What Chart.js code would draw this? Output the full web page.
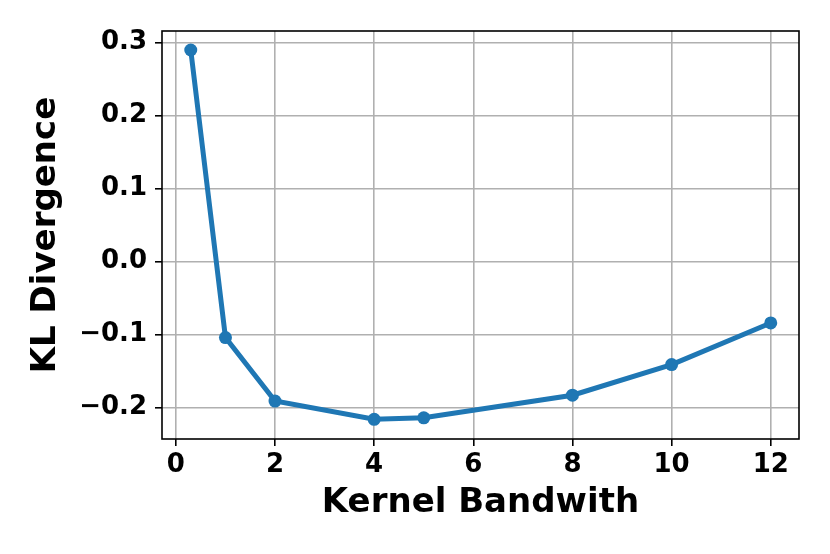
<!DOCTYPE html>
<html>
<head>
<meta charset="utf-8">
<script src="https://cdn.jsdelivr.net/npm/chart.js@4"></script>
<style>
  html, body { margin: 0; padding: 0; background: #fff; }
  #wrap { width: 830px; height: 554px; }
</style>
</head>
<body>
<div id="wrap"><canvas id="klChart"></canvas></div>
<script>
const bandwidths = [0.3, 1, 2, 4, 5, 8, 10, 12];
const klValues = [0.290, -0.104, -0.191, -0.216, -0.214, -0.183, -0.141, -0.084];
const xTicks = [0, 2, 4, 6, 8, 10, 12];
const yTicks = [-0.2, -0.1, 0.0, 0.1, 0.2, 0.3];

const FONT = "'DejaVu Sans', sans-serif";
const BLUE = '#1f77b4';

// matplotlib-style minus sign
function fmt(v, digits) {
  const s = Math.abs(v).toFixed(digits);
  return v < -1e-9 ? '\u2212' + s : s;
}

const framePlugin = {
  id: 'frame',
  afterDatasetsDraw(chart) {
    const { ctx, chartArea: a } = chart;
    ctx.save();
    ctx.strokeStyle = '#000';
    ctx.lineWidth = 1.6;
    ctx.strokeRect(a.left, a.top, a.right - a.left, a.bottom - a.top);
    ctx.restore();
  },
};

new Chart(document.getElementById('klChart'), {
  type: 'line',
  data: {
    datasets: [
      {
        data: bandwidths.map((x, i) => ({ x, y: klValues[i] })),
        borderColor: BLUE,
        backgroundColor: BLUE,
        borderWidth: 5,
        pointRadius: 6.5,
        pointHoverRadius: 6.5,
        pointBorderWidth: 0,
        tension: 0,
      },
    ],
  },
  options: {
    responsive: true,
    maintainAspectRatio: false,
    animation: false,
    layout: { padding: { top: 31, right: 31, left: 0, bottom: 0 } },
    plugins: { legend: { display: false }, tooltip: { enabled: false } },
    scales: {
      x: {
        type: 'linear',
        min: -0.28,
        max: 12.57,
        afterBuildTicks: (s) => { s.ticks = xTicks.map((v) => ({ value: v })); },
        afterFit: (s) => { s.height = 115; },
        grid: { color: '#b0b0b0', lineWidth: 1.6, tickColor: '#000', tickLength: 7, tickWidth: 1.6 },
        border: { display: false },
        ticks: {
          color: '#000',
          padding: 4,
          maxRotation: 0,
          font: { family: FONT, size: 26, weight: 'bold' },
          callback: (v) => fmt(v, 0),
        },
        title: {
          display: true,
          text: 'Kernel Bandwith',
          color: '#000',
          padding: { top: 0, bottom: 30 },
          font: { family: FONT, size: 34, weight: 'bold' },
        },
      },
      y: {
        min: -0.243,
        max: 0.316,
        afterBuildTicks: (s) => { s.ticks = yTicks.map((v) => ({ value: v })); },
        afterFit: (s) => { s.width = 162; },
        grid: { color: '#b0b0b0', lineWidth: 1.6, tickColor: '#000', tickLength: 7, tickWidth: 1.6 },
        border: { display: false },
        ticks: {
          color: '#000',
          padding: 8,
          font: { family: FONT, size: 26, weight: 'bold' },
          callback: (v) => fmt(v, 1),
        },
        title: {
          display: true,
          text: 'KL Divergence',
          color: '#000',
          padding: { top: 26, bottom: 0 },
          font: { family: FONT, size: 34, weight: 'bold' },
        },
      },
    },
  },
  plugins: [framePlugin],
});
</script>
</body>
</html>
